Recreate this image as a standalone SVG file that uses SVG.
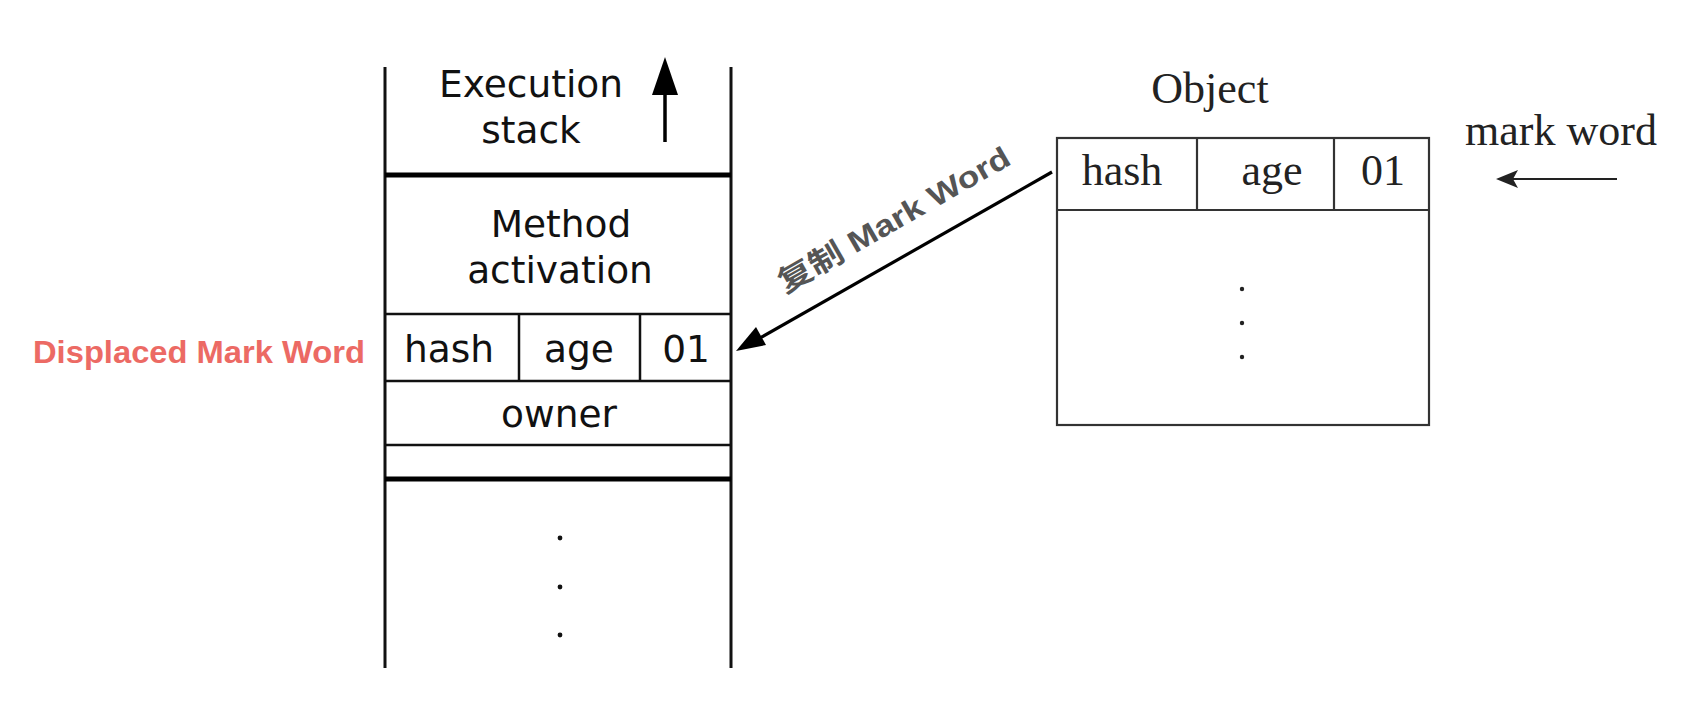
<svg xmlns="http://www.w3.org/2000/svg" width="1703" height="720" viewBox="0 0 1703 720">
<style>
.sans{font-family:"DejaVu Sans","Liberation Sans",sans-serif;font-size:37.5px;fill:#111;text-anchor:middle}
.serif{font-family:"Liberation Serif","Times New Roman",serif;font-size:44px;fill:#222;text-anchor:middle}
.vl{stroke:#111;stroke-width:3;fill:none}
.thin{stroke:#111;stroke-width:2.5;fill:none}
.thick{stroke:#000;stroke-width:5;fill:none}
.obj{stroke:#333;stroke-width:2.2;fill:none}
.red{font-family:"Liberation Sans",Arial,sans-serif;font-weight:bold;font-size:32px;fill:#EC6A64}
.copy{font-family:"Liberation Sans","Noto Sans CJK SC",sans-serif;font-weight:bold;font-size:30px;fill:#555;text-anchor:middle}
</style>
<rect width="1703" height="720" fill="#fff"/>

<g id="stack">
<line class="vl" x1="385" y1="67" x2="385" y2="668"/>
<line class="vl" x1="731" y1="67" x2="731" y2="668"/>
<line class="thick" x1="385" y1="175" x2="731" y2="175"/>
<line class="thin" x1="385" y1="314" x2="731" y2="314"/>
<line class="thin" x1="385" y1="381" x2="731" y2="381"/>
<line class="thin" x1="519" y1="314" x2="519" y2="381"/>
<line class="thin" x1="640" y1="314" x2="640" y2="381"/>
<line class="thin" x1="385" y1="445" x2="731" y2="445"/>
<line class="thick" x1="385" y1="479" x2="731" y2="479"/>
<text class="sans" x="531" y="97">Execution</text>
<text class="sans" x="531" y="143">stack</text>
<line x1="665" y1="90" x2="665" y2="142" stroke="#000" stroke-width="3.5"/>
<polygon points="665,57 652,95 678,95" fill="#000"/>
<text class="sans" x="561" y="237">Method</text>
<text class="sans" x="560" y="283">activation</text>
<text class="sans" x="449" y="362">hash</text>
<text class="sans" x="579" y="362">age</text>
<text class="sans" x="686" y="362">01</text>
<text class="sans" x="559" y="427">owner</text>
<circle cx="560" cy="538" r="2.4" fill="#111"/>
<circle cx="560" cy="587" r="2.4" fill="#111"/>
<circle cx="560" cy="635" r="2.4" fill="#111"/>
</g>

<g id="displaced-label">
<text class="red" x="33" y="363" textLength="332" lengthAdjust="spacingAndGlyphs">Displaced Mark Word</text>
</g>

<g id="object">
<text class="serif" x="1210" y="103">Object</text>
<rect class="obj" x="1057" y="138" width="372" height="287"/>
<line class="obj" x1="1057" y1="210" x2="1429" y2="210"/>
<line class="obj" x1="1197" y1="138" x2="1197" y2="210"/>
<line class="obj" x1="1334" y1="138" x2="1334" y2="210"/>
<text class="serif" x="1122" y="185">hash</text>
<text class="serif" x="1272" y="185">age</text>
<text class="serif" x="1383" y="185">01</text>
<circle cx="1242" cy="289" r="2.2" fill="#222"/>
<circle cx="1242" cy="323" r="2.2" fill="#222"/>
<circle cx="1242" cy="357" r="2.2" fill="#222"/>
</g>

<g id="markword-label">
<text class="serif" x="1561" y="145">mark word</text>
</g>

<g id="connectors">
<line x1="1052" y1="172" x2="760" y2="338" stroke="#000" stroke-width="3.2"/>
<polygon points="736,351 756,327 766,345" fill="#000"/>
<line x1="1617" y1="179" x2="1510" y2="179" stroke="#222" stroke-width="2.2"/>
<polygon points="1496,179 1518,170 1513,179 1518,188" fill="#222"/>
</g>

<g id="copy-label">
<text class="copy" transform="translate(894,220) rotate(-29.8)" x="0" y="10" textLength="262" lengthAdjust="spacingAndGlyphs">复制 Mark Word</text>
</g>
</svg>
